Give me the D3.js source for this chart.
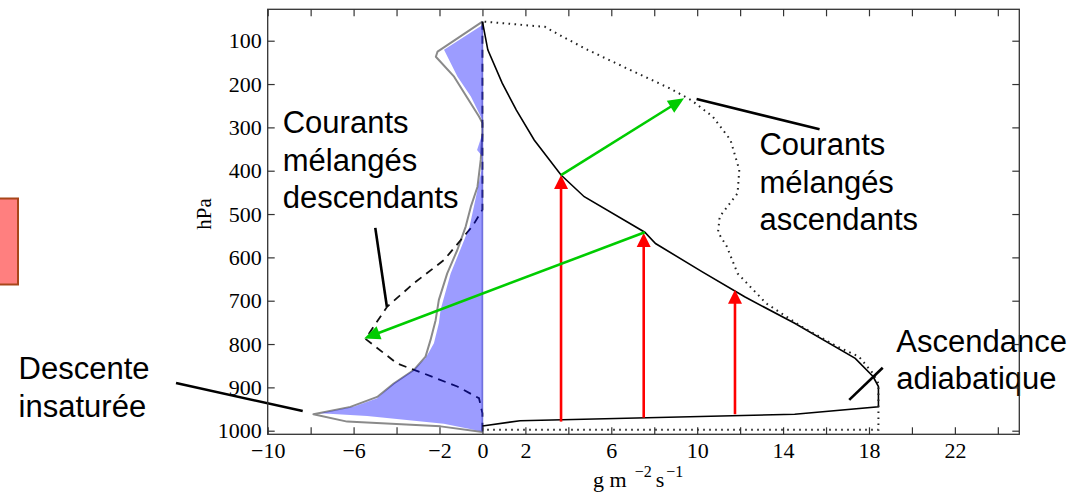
<!DOCTYPE html>
<html><head><meta charset="utf-8">
<script src="https://cdn.jsdelivr.net/npm/d3@7"></script>
<style>
html,body{margin:0;padding:0;background:#fff;}
svg{display:block;}
</style></head><body>
<svg id="chart" width="1092" height="498"></svg>
<script>
// Axis ticks
const pressureTickLabels = [100, 200, 300, 400, 500, 600, 700, 800, 900, 1000];
const fluxTicks = [-10, -8, -6, -4, -2, 0, 2, 4, 6, 8, 10, 12, 14, 16, 18, 20, 22, 24];
const fluxTickLabels = [-10, -6, -2, 0, 2, 6, 10, 14, 18, 22];

// Adiabatic updraft mass flux (solid black)
const adiabaticP    = [56, 121, 198, 260, 329, 410, 460, 542, 568, 633, 691, 752, 833, 875, 898, 945, 962, 977, 989];
const adiabaticFlux = [0, 0.25, 0.92, 1.58, 2.41, 3.66, 4.74, 7.56, 8.06, 10.22, 12.21, 14.54, 17.36, 18.19, 18.44, 18.44, 14.54, 1.75, 0];

// Mixed updraft envelope (dotted)
const mixedUpP    = [56, 68, 91, 121, 168, 210, 237, 275, 329, 398, 452, 506, 542, 575, 637, 706, 760, 806, 829, 868, 891, 998, 998];
const mixedUpFlux = [0.1, 2.91, 3.74, 4.9, 6.9, 8.73, 9.72, 10.72, 11.55, 11.96, 11.88, 11.05, 10.97, 11.38, 11.88, 13.21, 14.87, 16.53, 17.53, 18.19, 18.44, 18.44, 0];

// Total downdraft envelope (grey)
const downTotalP    = [56, 125, 137, 183, 275, 290, 313, 375, 437, 483, 529, 583, 637, 698, 745, 791, 829, 860, 891, 922, 945, 962, 979, 990, 1003];
const downTotalFlux = [0, -2.09, -2.17, -1.32, -0.16, 0, 0, -0.08, -0.23, -0.54, -0.78, -1.17, -1.64, -2.03, -2.18, -2.42, -2.65, -3.2, -4.13, -4.9, -6.15, -7.87, -6.3, -1.95, 0];

// Downdraft mass flux (blue area)
const downFillP    = [64, 121, 183, 229, 283, 314, 352, 367, 400, 437, 483, 529, 560, 637, 721, 752, 798, 833, 860, 891, 925, 945, 960, 966, 984, 1002];
const downFillFlux = [0, -1.79, -1.16, -0.54, 0, 0, -0.25, 0, -0.05, -0.2, -0.4, -0.6, -0.85, -1.48, -1.95, -2.03, -2.26, -2.65, -3.2, -4.13, -4.9, -6.0, -7.55, -5.37, -1.8, 0];

// Mixed downdraft (dashed)
const mixedDownP    = [56, 490, 527, 560, 606, 660, 714, 788, 845, 868, 898, 925, 960, 1002];
const mixedDownFlux = [0, 0, -0.45, -1.01, -1.79, -3.2, -4.44, -5.45, -3.97, -2.73, -1.17, -0.16, 0, 0];

// Red arrows: lifting from the base to the adiabatic profile
const liftX    = [3.66, 7.51, 11.76];
const liftFrom = [979, 970, 962];
const liftTo   = [410, 544, 675];

// Green arrows: detrained air feeding the mixed currents
const mixFromX = [3.66, 7.56];
const mixFromP = [410, 542];
const mixToX   = [9.39, -5.51];
const mixToP   = [233, 787];

// Annotations: text lines, anchor in data units, leader line in data units
const noteLines  = [["Courants", "mélangés", "descendants"], ["Courants", "mélangés", "ascendants"], ["Ascendance", "adiabatique"], ["Descente", "insaturée"]];
const noteX      = [-9.3, 12.9, 19.27, -21.6];
const noteP      = [313.7, 363.8, 817.7, 881.4];
const leaderFrom = [[-4.99, 532], [9.97, 234.5], [17.08, 929], [-14.27, 890]];
const leaderTo   = [[-4.45, 714], [15.7, 304.5], [18.64, 854.6], [-8.37, 954.6]];

const svg = d3.select("#chart");
const W = 1092, H = 498;
const plot = {left: 267.7, right: 1019.3, top: 9.3, bottom: 434.3};

const x = d3.scaleLinear().domain([-10, 25]).range([plot.left, plot.right]);
const y = d3.scaleLinear().domain([27.5, 1008.3]).range([plot.top, plot.bottom]);

const zip = (vs, ps) => vs.map((v, i) => [v, ps[i]]);
const line = d3.line().x(d => x(d[0])).y(d => y(d[1]));

// Side box at the left edge
svg.append("rect")
  .attr("x", -3).attr("y", 198.5).attr("width", 21).attr("height", 86)
  .attr("fill", "#ff7f7f").attr("stroke", "#a8461a").attr("stroke-width", 2);

// Grey total downdraft envelope
svg.append("path").datum(zip(downTotalFlux, downTotalP))
  .attr("d", line).attr("fill", "none")
  .attr("stroke", "#8a8a8a").attr("stroke-width", 2).attr("stroke-linejoin", "round");

// Mixed downdraft dashed line (under the translucent fill)
svg.append("path").datum(zip(mixedDownFlux, mixedDownP))
  .attr("d", line).attr("fill", "none")
  .attr("stroke", "#111").attr("stroke-width", 1.8).attr("stroke-dasharray", "8,6");

// Blue downdraft area
const area = d3.area().x0(x(0)).x1(d => x(d[0])).y(d => y(d[1]));
svg.append("path").datum(zip(downFillFlux, downFillP))
  .attr("d", area).attr("fill", "#0000ff").attr("fill-opacity", 0.39);

// Zero line
svg.append("line")
  .attr("x1", x(0)).attr("x2", x(0)).attr("y1", y(56)).attr("y2", y(1003))
  .attr("stroke", "#3030c8").attr("stroke-opacity", 0.6).attr("stroke-width", 1.6);

// Adiabatic updraft
svg.append("path").datum(zip(adiabaticFlux, adiabaticP))
  .attr("d", line).attr("fill", "none")
  .attr("stroke", "#000").attr("stroke-width", 1.6);

// Mixed updraft envelope
svg.append("path").datum(zip(mixedUpFlux, mixedUpP))
  .attr("d", line).attr("fill", "none")
  .attr("stroke", "#222").attr("stroke-width", 2).attr("stroke-dasharray", "1.6,4.4");

// Arrow helper: shaft plus filled triangular head
function arrow(x0, y0, x1, y1, color, headLen, headHalf) {
  const dx = x1 - x0, dy = y1 - y0, len = Math.hypot(dx, dy);
  const ux = dx / len, uy = dy / len;
  const bx = x1 - ux * headLen, by = y1 - uy * headLen;
  svg.append("line")
    .attr("x1", x0).attr("y1", y0).attr("x2", bx + ux * 2).attr("y2", by + uy * 2)
    .attr("stroke", color).attr("stroke-width", 2.6);
  svg.append("path")
    .attr("d", `M${x1},${y1}L${bx - uy * headHalf},${by + ux * headHalf}L${bx + uy * headHalf},${by - ux * headHalf}Z`)
    .attr("fill", color);
}

liftX.forEach((v, i) => arrow(x(v), y(liftFrom[i]), x(v), y(liftTo[i]), "#ff0000", 14, 7));
mixFromX.forEach((v, i) => arrow(x(v), y(mixFromP[i]), x(mixToX[i]), y(mixToP[i]), "#00cc00", 16, 7));

// Annotations
leaderFrom.forEach((a, i) => {
  const b = leaderTo[i];
  svg.append("line")
    .attr("x1", x(a[0])).attr("y1", y(a[1])).attr("x2", x(b[0])).attr("y2", y(b[1]))
    .attr("stroke", "#000").attr("stroke-width", 2.6);
});
noteLines.forEach((lines, i) => {
  const t = svg.append("text")
    .attr("font-family", "'Liberation Sans', Arial, sans-serif")
    .attr("font-size", 31).attr("fill", "#000");
  lines.forEach((s, j) => {
    t.append("tspan").attr("x", x(noteX[i])).attr("y", y(noteP[i]) + j * 37.5).text(s);
  });
});

// Axes
const serif = "'Liberation Serif', 'Times New Roman', serif";
const fmt = d => fluxTickLabels.includes(d) ? d3.format("d")(d) : "";

const gB = svg.append("g").attr("transform", `translate(0,${plot.bottom})`)
  .call(d3.axisBottom(x).tickValues(fluxTicks).tickFormat(fmt).tickSize(-7).tickSizeOuter(0).tickPadding(8));
const gT = svg.append("g").attr("transform", `translate(0,${plot.top})`)
  .call(d3.axisTop(x).tickValues(fluxTicks).tickFormat("").tickSize(-7).tickSizeOuter(0));
const gL = svg.append("g").attr("transform", `translate(${plot.left},0)`)
  .call(d3.axisLeft(y).tickValues(pressureTickLabels).tickFormat(d3.format("d")).tickSize(-7).tickSizeOuter(0).tickPadding(6));
const gR = svg.append("g").attr("transform", `translate(${plot.right},0)`)
  .call(d3.axisRight(y).tickValues(pressureTickLabels).tickFormat("").tickSize(-7).tickSizeOuter(0));

[gB, gT, gL, gR].forEach(g => {
  g.select(".domain").remove();
  g.selectAll(".tick line").attr("stroke", "#333").attr("stroke-width", 1.2);
  g.selectAll(".tick text").attr("font-family", serif).attr("font-size", 22).attr("fill", "#000");
});

// Frame
svg.append("rect")
  .attr("x", plot.left).attr("y", plot.top)
  .attr("width", plot.right - plot.left).attr("height", plot.bottom - plot.top)
  .attr("fill", "none").attr("stroke", "#333").attr("stroke-width", 1.3);

// Axis titles
svg.append("text")
  .attr("transform", "translate(211,214) rotate(-90)")
  .attr("text-anchor", "middle")
  .attr("font-family", serif).attr("font-size", 21).attr("fill", "#000")
  .text("hPa");

const xt = svg.append("text")
  .attr("x", 593).attr("y", 487)
  .attr("font-family", serif).attr("font-size", 22).attr("fill", "#000");
xt.append("tspan").text("g m");
xt.append("tspan").attr("dx", 8).attr("dy", -10).attr("font-size", 16).text("−2");
xt.append("tspan").attr("dx", 4).attr("dy", 10).text("s");
xt.append("tspan").attr("dx", 2).attr("dy", -10).attr("font-size", 16).text("−1");
</script>
</body></html>
